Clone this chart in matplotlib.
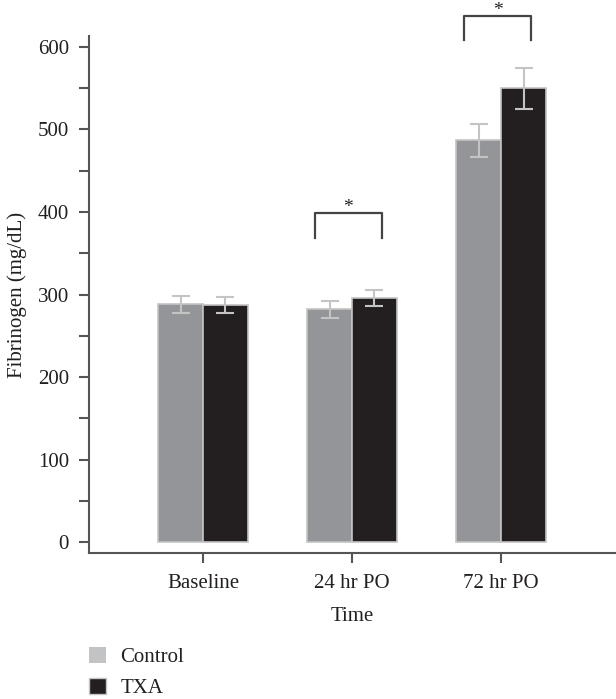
import numpy as np
import matplotlib
matplotlib.use("Agg")
import matplotlib.pyplot as plt
from matplotlib.patches import Patch

plt.rcParams['font.family'] = ['Liberation Serif', 'DejaVu Serif']

# Data
times = ['Baseline', '24 hr PO', '72 hr PO']
control_mean = [288, 282, 487]
control_err = [10, 10, 20]
txa_mean = [287, 296, 550]
txa_err = [10, 10, 25]

# Significance brackets: (group index, bracket top, leg bottom)
sig_groups = [1, 2]
sig_tops = [399, 638]
sig_bottoms = [369, 608]

ink = '#231f20'
c_ctrl = '#939598'
c_txa = '#231f20'
c_edge = '#c4c4c4'
fs = 15

fig = plt.figure(figsize=(6.16, 6.99), dpi=100)
ax = fig.add_axes([89/616, (699-553)/699, 1-89/616, (553-36)/699])

x = np.arange(len(times))
w = 0.3
ax.bar(x - w/2, control_mean, w, color=c_ctrl, edgecolor=c_edge, linewidth=1.2,
       yerr=control_err, error_kw=dict(ecolor=c_edge, elinewidth=1.5, capsize=6.5, capthick=1.5))
ax.bar(x + w/2, txa_mean, w, color=c_txa, edgecolor=c_edge, linewidth=1.2,
       yerr=txa_err, error_kw=dict(ecolor=c_edge, elinewidth=1.5, capsize=6.5, capthick=1.5))

# significance brackets
for g, top, bot in zip(sig_groups, sig_tops, sig_bottoms):
    x0, x1 = g - 0.25, g + 0.2
    ax.plot([x0, x0, x1, x1], [bot, top, top, bot], color='#444444', lw=1.6, clip_on=False)
    ax.text((x0 + x1)/2, top + 1, '*', ha='center', va='baseline', fontsize=14,
            color=ink, clip_on=False)

ax.set_xlim(-0.765, 2.77)
ax.set_ylim(-13.3, 613.3)

ax.set_yticks(np.arange(0, 601, 100))
ax.set_yticks(np.arange(50, 601, 100), minor=True)
ax.set_xticks(x)
ax.set_xticklabels(times)

for s in ['top', 'right']:
    ax.spines[s].set_visible(False)
for s in ['left', 'bottom']:
    ax.spines[s].set_color('#555555')
    ax.spines[s].set_linewidth(1.5)

ax.tick_params(axis='both', which='both', direction='out', color='#555555', width=1.5,
               labelsize=fs, labelcolor=ink)
ax.tick_params(axis='y', which='major', length=7.5, pad=7)
ax.tick_params(axis='y', which='minor', length=7.5)
ax.tick_params(axis='x', length=7, pad=8)

ax.set_ylabel('Fibrinogen (mg/dL)', fontsize=fs, color=ink)
ax.yaxis.set_label_coords(-0.118, 0.5)
ax.set_xlabel('Time', fontsize=fs, color=ink, labelpad=10)

handles = [Patch(facecolor='#c2c3c5', edgecolor='none', label='Control'),
           Patch(facecolor=c_txa, edgecolor='#c4c4c4', label='TXA')]
fig.legend(handles=handles, loc='upper left', bbox_to_anchor=(89/616, 1 - 647/699),
           frameon=False, fontsize=fs, handlelength=0.8, handleheight=0.8,
           handletextpad=0.7, labelspacing=0.5, borderpad=0, borderaxespad=0,
           labelcolor=ink)

fig.savefig('out.png', dpi=100)
